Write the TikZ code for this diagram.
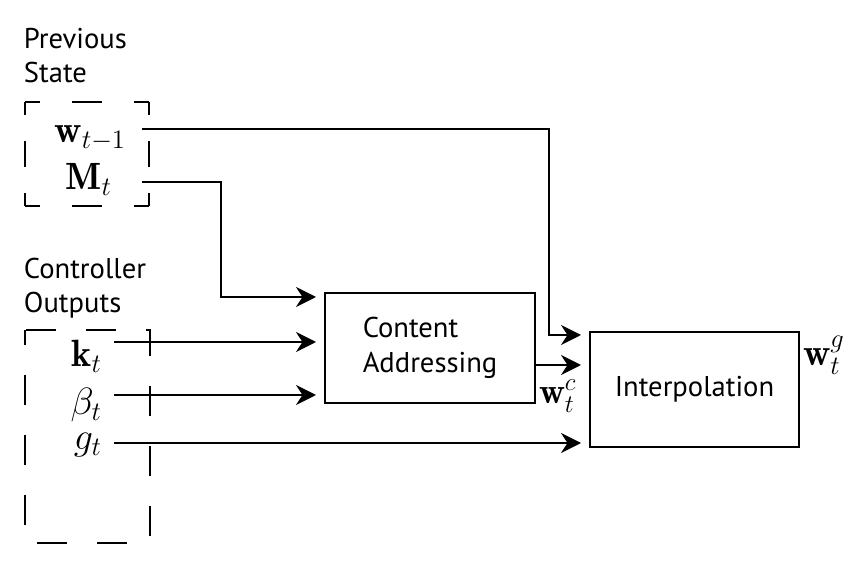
\RequirePackage{fix-cm}
\documentclass[tikz,border=0pt]{standalone}
\usepackage{amsmath}
\usepackage{fontspec}
\setsansfont{PT Sans}
\usepackage{tikz}
\usetikzlibrary{positioning, arrows.meta}

\begin{document}
\begin{tikzpicture}[x=0.5pt, y=-0.5pt, >={Stealth[length=10pt, width=10pt]}, line width=1pt,
        every node/.style={inner sep=0pt},
        caption/.style={font=\sffamily\fontsize{14.3}{17.2}\selectfont, align=left, anchor=base west},
        var/.style={font=\fontsize{19}{22}\selectfont, anchor=base east},
        block/.style={draw, font=\sffamily\fontsize{14.3}{17.5}\selectfont, align=left},
        dashh/.style={dash pattern=on 15pt off 16pt, dash phase=7.5pt},
        dashv/.style={dash pattern=on 13pt off 13pt, dash phase=6.5pt},
        dashbox/.style={dash pattern=on 15pt off 15pt, dash phase=7.5pt},
        feed/.style={->, shorten >=4pt}]
    \useasboundingbox (0,0) rectangle (868,582);

    % previous state
    \node[caption] (prev) at (23,83) {Previous\\State};
    \draw[dashh] (25,102) -- (149,102);
    \draw[dashh] (25,206) -- (149,206);
    \draw[dashv] (25,102) -- (25,206);
    \draw[dashv] (149,102) -- (149,206);
    \node[var] (wprev) at (127,143) {$\mathbf{w}_{t-1}$};
    \node[var] (mem) at (113,190) {$\mathbf{M}_t$};

    % controller outputs
    \node[caption] (ctrl) at (23,313) {Controller\\Outputs};
    \draw[dashbox] (25,330) rectangle (150,543);
    \node[var] (key) at (103,367) {$\mathbf{k}_t$};
    \node[var] (beta) at (103,415) {$\beta_t$};
    \node[var] (gate) at (103,450) {$g_t$};

    % blocks
    \node[block, minimum width=105pt, minimum height=55pt] (content) at (430,348) {Content\\Addressing};
    \node[block, minimum width=104.5pt, minimum height=57.5pt] (interp) at (694.5,389.5) {Interpolation};
    \node[var, anchor=base west, font=\fontsize{18}{21}\selectfont] (wc) at ([xshift=1pt]content.south east) {$\mathbf{w}_t^c$};
    \node[var, anchor=base west] (wg) at ([xshift=1pt, yshift=-17.5pt]interp.north east) {$\mathbf{w}_t^g$};

    \draw[feed] ([xshift=7.5pt, yshift=7pt]wprev.base east) -| ([xshift=-20pt, yshift=-2pt]interp.north west) -- ([yshift=-2pt]interp.north west);
    \draw[feed] ([xshift=14.5pt, yshift=4pt]mem.base east) -| ([xshift=-51.5pt, yshift=-2.5pt]content.north west) -- ([yshift=-2.5pt]content.north west);
    \draw[feed] ([xshift=5.5pt, yshift=12.5pt]key.base east) coordinate (k0) -- (k0 -| content.west);
    \draw[feed] ([xshift=5.5pt, yshift=10pt]beta.base east) coordinate (b0) -- (b0 -| content.west);
    \draw[feed] ([xshift=5.5pt, yshift=3.5pt]gate.base east) coordinate (g0) -- (g0 -| interp.west);
    \draw[feed] ([yshift=-8.5pt]content.east) coordinate (c0) -- (c0 -| interp.west);
\end{tikzpicture}
\end{document}
